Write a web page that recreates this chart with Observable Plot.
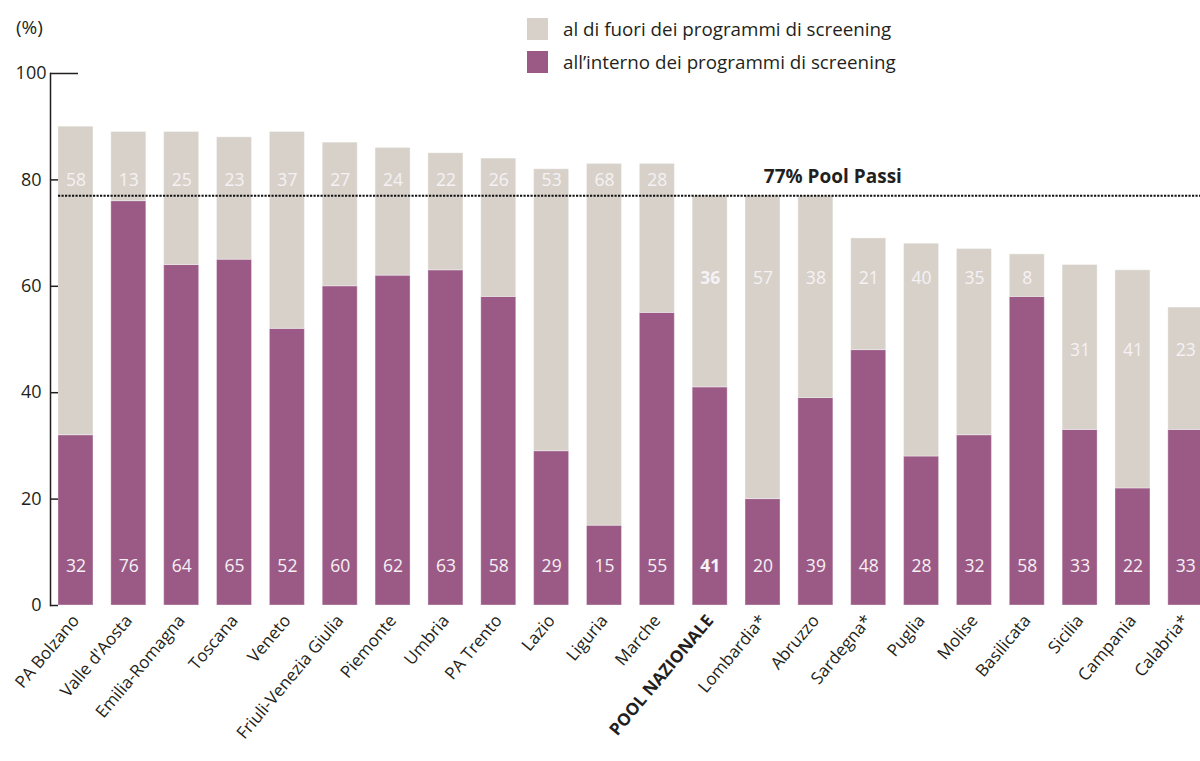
<!DOCTYPE html>
<html><head><meta charset="utf-8">
<script src="https://cdn.jsdelivr.net/npm/d3@7"></script>
<script src="https://cdn.jsdelivr.net/npm/@observablehq/plot@0.6"></script>
<style>
html,body{margin:0;padding:0;background:#fff;overflow:hidden}
body{font-family:"Open Sans",Lato,sans-serif;color:#231f20}
#wrap{position:relative;width:1200px;height:761px}
#unit{position:absolute;left:16px;top:14px;font-size:19px}
.legend{position:absolute;left:527px;font-size:18.8px;display:flex;align-items:center}
.legend span.sw{display:inline-block;width:21px;height:22px;margin-right:15px}
</style></head><body>
<div id="wrap">
<div id="chart"></div>
<div id="unit">(%)</div>
<div class="legend" style="top:16px"><span class="sw" style="background:#d7d1ca"></span>al di fuori dei programmi di screening</div>
<div class="legend" style="top:49px"><span class="sw" style="background:#9b5a86"></span>all’interno dei programmi di screening</div>
</div>
<script>
const regions = ["PA Bolzano","Valle d'Aosta","Emilia-Romagna","Toscana","Veneto","Friuli-Venezia Giulia","Piemonte","Umbria","PA Trento","Lazio","Liguria","Marche","POOL NAZIONALE","Lombardia*","Abruzzo","Sardegna*","Puglia","Molise","Basilicata","Sicilia","Campania","Calabria*"];
const inside  = [32,76,64,65,52,60,62,63,58,29,15,55,41,20,39,48,28,32,58,33,22,33];
const outside = [58,13,25,23,37,27,24,22,26,53,68,28,36,57,38,21,40,35,8,31,41,23];
const poolPassi = 77;
const poolLabel = "77% Pool Passi";
const nationalPool = "POOL NAZIONALE";
const yTicks = [0,20,40,60,80];
const yTop = [100];
const seriesNames = ["all’interno dei programmi di screening","al di fuori dei programmi di screening"];
// label anchor levels (in %) for the outside-screening values
const outsideLabelAt = [80,80,80,80,80,80,80,80,80,80,80,80,61.4,61.4,61.4,61.4,61.4,61.4,61.4,48,48,48];
const insideLabelAt = 7.3;

const rows = [];
regions.forEach((r,i)=>{
  rows.push({region:r, series:seriesNames[0], value:inside[i]});
  rows.push({region:r, series:seriesNames[1], value:outside[i]});
});
const insideRows = regions.map((r,i)=>({region:r, v:inside[i], at:insideLabelAt}));
const outsideRows = regions.map((r,i)=>({region:r, v:outside[i], at:outsideLabelAt[i]}));
const isPool = d => d.region === nationalPool;

const step = 52.85, pIn = 0.338, pOut = 0.151, x0 = 50;
const x1 = x0 + step*(regions.length - pIn + 2*pOut);
const labelFill = "#f6f1f4";
const font = "'Open Sans', Lato, sans-serif";
const lblSize = 17.5;

const chart = Plot.plot({
  width: 1200, height: 761,
  marginLeft: 50, marginTop: 73, marginBottom: 156, marginRight: 0,
  style: {fontFamily: font, color: "#231f20", background: "transparent"},
  x: {domain: regions, range: [x0, x1], paddingInner: pIn, paddingOuter: pOut, round: false, axis: null},
  y: {domain: [0,100], axis: null},
  color: {domain: seriesNames, range: ["#9b5a86","#d7d1ca"]},
  marks: [
    Plot.barY(rows, {x:"region", y:"value", fill:"series", order: seriesNames, stroke:"#ffffff", strokeOpacity:0.35, strokeWidth:1}),
    Plot.ruleY([poolPassi], {stroke:"#111", strokeWidth:2, strokeDasharray:"2.2,1.3", insetLeft: 8}),
    Plot.text([poolPassi], {x: () => "Abruzzo", y: d=>d, text: () => poolLabel, dx: 17, dy: -19, fontWeight:"bold", fontSize: 19, fill:"#231f20"}),
    Plot.text(insideRows.filter(d=>!isPool(d)), {x:"region", y:"at", text:"v", fill: labelFill, fontSize: lblSize}),
    Plot.text(insideRows.filter(isPool), {x:"region", y:"at", text:"v", fill: labelFill, fontSize: lblSize, fontWeight:"bold"}),
    Plot.text(outsideRows.filter(d=>!isPool(d)), {x:"region", y:"at", text:"v", fill: labelFill, fontSize: lblSize}),
    Plot.text(outsideRows.filter(isPool), {x:"region", y:"at", text:"v", fill: labelFill, fontSize: lblSize, fontWeight:"bold"}),
    Plot.frame({anchor:"left", stroke:"#231f20", strokeWidth:1.5}),
    Plot.axisY({ticks: yTicks, tickSize: -8, tickPadding: 17, fontSize: 18, stroke:"#231f20", strokeWidth:1.5}),
    Plot.axisY({ticks: yTop, tickSize: -28, tickPadding: 32, fontSize: 18, stroke:"#231f20", strokeWidth:1.5}),
    Plot.axisX({ticks: regions.filter(r=>r!==nationalPool), tickSize: 0, tickPadding: 12, tickRotate: -50, fontSize: 17, label: null}),
    Plot.axisX({ticks: [nationalPool], tickSize: 0, tickPadding: 12, tickRotate: -50, fontSize: 17, fontWeight: "bold", label: null})
  ]
});
document.getElementById("chart").appendChild(chart);
</script>
</body></html>
